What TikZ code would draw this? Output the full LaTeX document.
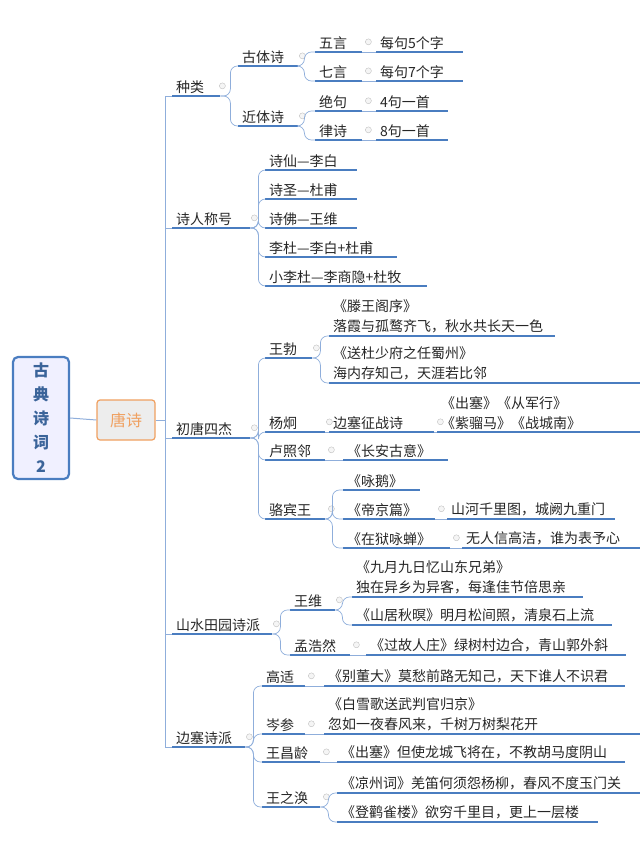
\documentclass[tikz,border=0pt]{standalone}
\usepackage{fontspec}
\setmainfont{Noto Sans CJK SC}
\usetikzlibrary{calc}
\definecolor{ulc}{HTML}{4A7DC0}
\definecolor{cnc}{HTML}{8FAEDB}
\definecolor{rootc}{HTML}{4A7DC0}
\definecolor{orc}{HTML}{F0A060}
\tikzset{
  itm/.style={anchor=south west,inner xsep=4pt,inner ysep=2.5pt,align=left,
    font=\fontsize{14}{20}\selectfont,text=black!85,
    append after command={\pgfextra{\draw[ulc,line width=1.6pt] (\tikzlastnode.south west)--(\tikzlastnode.south east);}}},
  cn/.style={cnc,line width=0.7pt,rounded corners=7pt},
  tog/.style={circle,draw=black!25,fill=black!4,inner sep=0pt,minimum size=6pt}
}
\newcommand{\mitem}[5]{\node[itm,text width=#4-8pt] (#1) at (#2,#3) {#5};}
\newcommand{\cn}[3]{\draw[cn] (#2.south east) -- ([xshift=#1]#2.south east) |- (#3.south west);}
\newcommand{\tg}[2]{\node[tog] at ([xshift=#2,yshift=1pt]#1.east) {};}
\begin{document}
\begin{tikzpicture}[x=1pt,y=-1pt]
\useasboundingbox (0,0) rectangle (640,849);
\node[draw=rootc,line width=2.2pt,fill=blue!6,rounded corners=5pt,minimum width=56,minimum height=122,align=center,text=rootc!80!black,font=\fontsize{16}{24}\selectfont\bfseries] (root) at (41,418) {古\\典\\诗\\词\\2};
\node[draw=orc,line width=1.2pt,fill=black!7,rounded corners=3pt,minimum width=58,minimum height=40,text=orc,font=\fontsize{16}{18}\selectfont] (ts) at (126,420) {唐诗};
\draw[cnc,line width=1pt] (root.east) -- (ts.west);
\coordinate (tr) at (165,420);
\draw[cnc,line width=0.7pt] (ts.east) -- (tr);
% level 1
\mitem{zl}{172}{96}{48}{种类}
\mitem{srch}{172}{228}{78}{诗人称号}
\mitem{ctsj}{172}{438}{78}{初唐四杰}
\mitem{sstypp}{172}{634}{100}{山水田园诗派}
\mitem{bsp}{172}{747}{73}{边塞诗派}
\foreach \n in {zl,srch,ctsj,sstypp,bsp} {\draw[cnc,line width=0.7pt] (tr) |- (\n.south west);}
\tg{zl}{2} \tg{srch}{4} \tg{ctsj}{4} \tg{sstypp}{4} \tg{bsp}{4}
% 种类
\mitem{gts}{238}{66}{60}{古体诗}
\mitem{jts}{238}{126}{60}{近体诗}
\cn{10}{zl}{gts} \cn{10}{zl}{jts}
\tg{gts}{4} \tg{jts}{4}
\mitem{wy}{315}{52}{47}{五言}
\mitem{qy}{315}{81}{47}{七言}
\mitem{jj}{315}{111}{47}{绝句}
\mitem{ls}{315}{140}{47}{律诗}
\cn{6}{gts}{wy} \cn{6}{gts}{qy} \cn{6}{jts}{jj} \cn{6}{jts}{ls}
\tg{wy}{6} \tg{qy}{6} \tg{jj}{6} \tg{ls}{6}
\mitem{wy2}{376}{52}{87}{每句5个字}
\mitem{qy2}{376}{81}{87}{每句7个字}
\mitem{jj2}{376}{111}{72}{4句一首}
\mitem{ls2}{376}{140}{72}{8句一首}
\draw[cnc] (wy.south east)--(wy2.south west); \draw[cnc] (qy.south east)--(qy2.south west);
\draw[cnc] (jj.south east)--(jj2.south west); \draw[cnc] (ls.south east)--(ls2.south west);
% 诗人称号
\mitem{a1}{265}{170}{92}{诗仙—李白}
\mitem{a2}{265}{199}{92}{诗圣—杜甫}
\mitem{a3}{265}{228}{92}{诗佛—王维}
\mitem{a4}{265}{257}{132}{李杜—李白+杜甫}
\mitem{a5}{265}{286}{162}{小李杜—李商隐+杜牧}
\foreach \n in {a1,a2,a3,a4,a5} {\cn{8}{srch}{\n}}
% 初唐四杰
\mitem{wb}{265}{358}{47}{王勃}
\mitem{yj}{265}{432}{60}{杨炯}
\mitem{lzl}{265}{460}{60}{卢照邻}
\mitem{lbw}{265}{519}{60}{骆宾王}
\foreach \n in {wb,yj,lzl,lbw} {\cn{8}{ctsj}{\n}}
\tg{wb}{4} \tg{yj}{4} \tg{lzl}{6} \tg{lbw}{6}
\mitem{wb1}{329}{336}{226}{《滕王阁序》\\落霞与孤鹜齐飞，秋水共长天一色}
\mitem{wb2}{329}{383}{320}{《送杜少府之任蜀州》\\海内存知己，天涯若比邻}
\cn{8}{wb}{wb1} \cn{8}{wb}{wb2}
\mitem{bszz}{329}{432}{105}{边塞征战诗}
\draw[cnc] (yj.south east)--(bszz.south west); \tg{bszz}{6}
\mitem{bszz2}{437}{432}{210}{《出塞》《从军行》\\《紫骝马》《战城南》}
\draw[cnc] (bszz.south east)--(bszz2.south west);
\mitem{cagy}{343}{460}{105}{《长安古意》}
\draw[cnc] (lzl.south east)--(cagy.south west);
\mitem{ye}{343}{490}{77}{《咏鹅》}
\mitem{djp}{343}{519}{92}{《帝京篇》}
\mitem{zyyc}{343}{548}{107}{《在狱咏蝉》}
\cn{7}{lbw}{ye} \cn{7}{lbw}{djp} \cn{7}{lbw}{zyyc}
\tg{djp}{6} \tg{zyyc}{6}
\mitem{djp2}{447}{519}{168}{山河千里图，城阙九重门}
\mitem{zyyc2}{462}{548}{178}{无人信高洁，谁为表予心}
\draw[cnc] (djp.south east)--(djp2.south west); \draw[cnc] (zyyc.south east)--(zyyc2.south west);
% 山水田园诗派
\mitem{ww}{290}{610}{45}{王维}
\mitem{mhr}{290}{655}{60}{孟浩然}
\cn{8}{sstypp}{ww} \cn{8}{sstypp}{mhr}
\tg{ww}{4} \tg{mhr}{6}
\mitem{ww1}{352}{597}{231}{《九月九日忆山东兄弟》\\独在异乡为异客，每逢佳节倍思亲}
\mitem{ww2}{352}{625}{260}{《山居秋暝》明月松间照，清泉石上流}
\cn{7}{ww}{ww1} \cn{7}{ww}{ww2}
\mitem{mhr1}{366}{655}{260}{《过故人庄》绿树村边合，青山郭外斜}
\draw[cnc] (mhr.south east)--(mhr1.south west);
% 边塞诗派
\mitem{gs}{262}{686}{43}{高适}
\mitem{cs}{262}{734}{43}{岑参}
\mitem{wcl}{262}{762}{58}{王昌龄}
\mitem{wzh}{262}{807}{58}{王之涣}
\foreach \n in {gs,cs,wcl,wzh} {\cn{8}{bsp}{\n}}
\tg{gs}{6} \tg{cs}{6} \tg{wcl}{6} \tg{wzh}{6}
\mitem{gs1}{324}{686}{301}{《别董大》莫愁前路无知己，天下谁人不识君}
\draw[cnc] (gs.south east)--(gs1.south west);
\mitem{cs1}{324}{734}{316}{《白雪歌送武判官归京》\\忽如一夜春风来，千树万树梨花开}
\draw[cnc] (cs.south east)--(cs1.south west);
\mitem{wcl1}{337}{762}{288}{《出塞》但使龙城飞将在，不教胡马度阴山}
\draw[cnc] (wcl.south east)--(wcl1.south west);
\mitem{wzh1}{337}{793}{303}{《凉州词》羌笛何须怨杨柳，春风不度玉门关}
\mitem{wzh2}{337}{822}{261}{《登鹳雀楼》欲穷千里目，更上一层楼}
\cn{8}{wzh}{wzh1} \cn{8}{wzh}{wzh2}
\end{tikzpicture}
\end{document}
